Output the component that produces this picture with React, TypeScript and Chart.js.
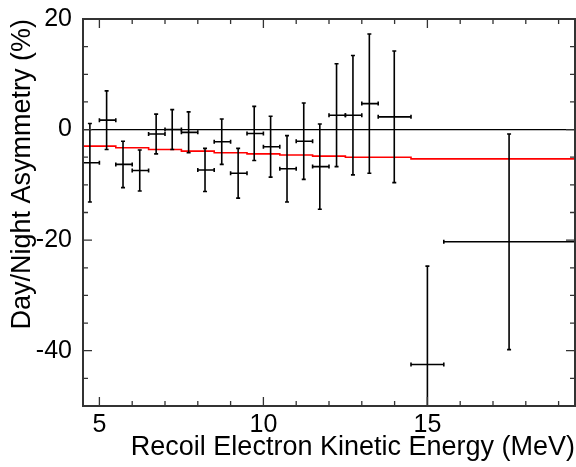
import React, { useEffect, useRef } from "react";
import { Chart, registerables } from "chart.js";

Chart.register(...registerables);

// Measured data points (recoil electron kinetic energy bins, MeV)
const binCenters = [4.71, 5.22, 5.72, 6.23, 6.73, 7.22, 7.72, 8.22, 8.73, 9.23, 9.72, 10.22, 10.72, 11.23, 11.72, 12.23, 12.73, 13.23, 13.99, 15.0, 17.49];
const binLow = [4.5, 5.0, 5.5, 6.0, 6.5, 7.0, 7.5, 8.0, 8.5, 9.0, 9.5, 10.0, 10.5, 11.0, 11.5, 12.0, 12.5, 13.0, 13.5, 14.5, 15.5];
const binHigh = [5.0, 5.5, 6.0, 6.5, 7.0, 7.5, 8.0, 8.5, 9.0, 9.5, 10.0, 10.5, 11.0, 11.5, 12.0, 12.5, 13.0, 13.5, 14.5, 15.5, 19.5];
// Day/Night asymmetry (%) and its error
const asymmetry = [-6.0, 1.7, -6.3, -7.4, -0.8, 0.0, -0.5, -7.3, -2.2, -7.9, -0.7, -3.1, -7.1, -2.1, -6.7, 2.6, 2.6, 4.7, 2.3, -42.5, -20.3];
const asymErr = [7.1, 5.3, 4.2, 3.7, 3.6, 3.6, 3.7, 3.9, 4.1, 4.5, 4.9, 5.5, 6.0, 6.9, 7.7, 9.3, 10.8, 12.6, 11.9, 17.8, 19.5];

// Expected asymmetry (red step line)
const modelEdges = [4.5, 5.5, 6.5, 7.5, 8.5, 9.5, 10.5, 11.5, 12.5, 14.5, 15.5, 19.5];
const modelValues = [-2.8, -3.0, -3.3, -3.6, -3.9, -4.2, -4.4, -4.6, -4.8, -5.0, -5.3, -5.3];

// Axes
const xMin = 4.5;
const xMax = 19.5;
const yMin = -50;
const yMax = 20;
const xMajorTicks = [5, 10, 15];
const xMinorTicks = [5, 6, 7, 8, 9, 10, 11, 12, 13, 14, 15, 16, 17, 18, 19];
const yMajorTicks = [-40, -20, 0, 20];
const yMinorTicks = [-45, -40, -35, -30, -25, -20, -15, -10, -5, 0, 5, 10, 15];

const xTitle = "Recoil Electron Kinetic Energy (MeV)";
const yTitle = "Day/Night Asymmetry (%)";

const FONT = "'Liberation Sans', Arial, Helvetica, sans-serif";

export default function App() {
  const ref = useRef<HTMLCanvasElement>(null);

  useEffect(() => {
    const canvas = ref.current;
    if (!canvas) return;

    const errorBars = {
      id: "errorBars",
      afterDatasetsDraw(chart: any) {
        const { ctx, chartArea, scales } = chart;
        const xs = scales.x;
        const ys = scales.y;
        const cap = 2;
        ctx.save();
        ctx.beginPath();
        ctx.rect(chartArea.left, chartArea.top, chartArea.right - chartArea.left, chartArea.bottom - chartArea.top);
        ctx.clip();
        ctx.strokeStyle = "#000";
        ctx.lineWidth = 1.6;
        for (let i = 0; i < binCenters.length; i++) {
          const px = xs.getPixelForValue(binCenters[i]);
          const py = ys.getPixelForValue(asymmetry[i]);
          const pyHi = ys.getPixelForValue(asymmetry[i] + asymErr[i]);
          const pyLo = ys.getPixelForValue(asymmetry[i] - asymErr[i]);
          const pxL = xs.getPixelForValue(binLow[i]);
          const pxR = xs.getPixelForValue(binHigh[i]);
          ctx.beginPath();
          ctx.moveTo(px, pyHi);
          ctx.lineTo(px, pyLo);
          ctx.moveTo(px - cap, pyHi);
          ctx.lineTo(px + cap, pyHi);
          ctx.moveTo(px - cap, pyLo);
          ctx.lineTo(px + cap, pyLo);
          ctx.moveTo(pxL, py);
          ctx.lineTo(pxR, py);
          ctx.moveTo(pxL, py - cap);
          ctx.lineTo(pxL, py + cap);
          ctx.moveTo(pxR, py - cap);
          ctx.lineTo(pxR, py + cap);
          ctx.stroke();
        }
        ctx.restore();
      },
    };

    const frame = {
      id: "frame",
      afterDraw(chart: any) {
        const { ctx, chartArea, scales } = chart;
        const xs = scales.x;
        const ys = scales.y;
        const { left, right, top, bottom } = chartArea;
        ctx.save();
        ctx.strokeStyle = "#333";
        ctx.lineWidth = 1.3;
        ctx.beginPath();
        const tick = (v: number, len: number, horiz: boolean) => {
          if (horiz) {
            const p = xs.getPixelForValue(v);
            ctx.moveTo(p, bottom);
            ctx.lineTo(p, bottom - len);
            ctx.moveTo(p, top);
            ctx.lineTo(p, top + len);
          } else {
            const p = ys.getPixelForValue(v);
            ctx.moveTo(left, p);
            ctx.lineTo(left + len, p);
            ctx.moveTo(right, p);
            ctx.lineTo(right - len, p);
          }
        };
        xMinorTicks.forEach((v) => tick(v, 5, true));
        xMajorTicks.forEach((v) => tick(v, 9, true));
        yMinorTicks.forEach((v) => tick(v, 5, false));
        yMajorTicks.forEach((v) => tick(v, 9, false));
        ctx.stroke();
        ctx.lineWidth = 2;
        ctx.strokeRect(left, top, right - left, bottom - top);
        ctx.restore();
      },
    };

    const chart = new Chart(canvas, {
      type: "scatter",
      data: {
        datasets: [
          {
            type: "line",
            data: [
              { x: xMin, y: 0 },
              { x: xMax, y: 0 },
            ],
            borderColor: "#000",
            borderWidth: 1.2,
            pointRadius: 0,
            fill: false,
          },
          {
            type: "line",
            data: modelEdges.map((x, i) => ({ x, y: modelValues[i] })),
            borderColor: "#ff0000",
            borderWidth: 1.6,
            pointRadius: 0,
            stepped: "after",
            fill: false,
          },
          {
            type: "scatter",
            data: binCenters.map((x, i) => ({ x, y: asymmetry[i] })),
            pointRadius: 0,
            borderWidth: 0,
          },
        ],
      } as any,
      options: {
        responsive: false,
        animation: false,
        devicePixelRatio: 1,
        layout: { padding: 0 },
        plugins: {
          legend: { display: false },
          tooltip: { enabled: false },
        },
        scales: {
          x: {
            type: "linear",
            min: xMin,
            max: xMax,
            afterBuildTicks: (s: any) => {
              s.ticks = xMajorTicks.map((v) => ({ value: v }));
            },
            afterFit: (s: any) => {
              s.height = 61;
              s.paddingLeft = 0;
              s.paddingRight = 1;
              s.paddingTop = 0;
              s.paddingBottom = 0;
            },
            grid: { display: false, drawTicks: false },
            border: { display: false },
            ticks: {
              padding: 4,
              color: "#000",
              font: { family: FONT, size: 25 },
              maxRotation: 0,
              autoSkip: false,
            },
            title: {
              display: true,
              text: xTitle,
              align: "end",
              color: "#000",
              font: { family: FONT, size: 27 },
              padding: { top: 0, bottom: 3 },
            },
          },
          y: {
            type: "linear",
            min: yMin,
            max: yMax,
            afterBuildTicks: (s: any) => {
              s.ticks = yMajorTicks.map((v) => ({ value: v }));
            },
            afterFit: (s: any) => {
              s.width = 83;
              s.paddingTop = 19;
              s.paddingBottom = 0;
              s.paddingLeft = 0;
              s.paddingRight = 0;
            },
            grid: { display: false, drawTicks: false },
            border: { display: false },
            ticks: {
              padding: 11,
              color: "#000",
              font: { family: FONT, size: 25 },
              autoSkip: false,
            },
            title: {
              display: true,
              text: yTitle,
              align: "end",
              color: "#000",
              font: { family: FONT, size: 27 },
              padding: { top: 6, bottom: 0 },
            },
          },
        },
      } as any,
      plugins: [errorBars, frame],
    });

    return () => chart.destroy();
  }, []);

  return (
    <div style={{ position: "fixed", left: 0, top: 0, width: 576, height: 467, background: "#fff" }}>
      <canvas ref={ref} width={576} height={467} style={{ display: "block" }} />
    </div>
  );
}
